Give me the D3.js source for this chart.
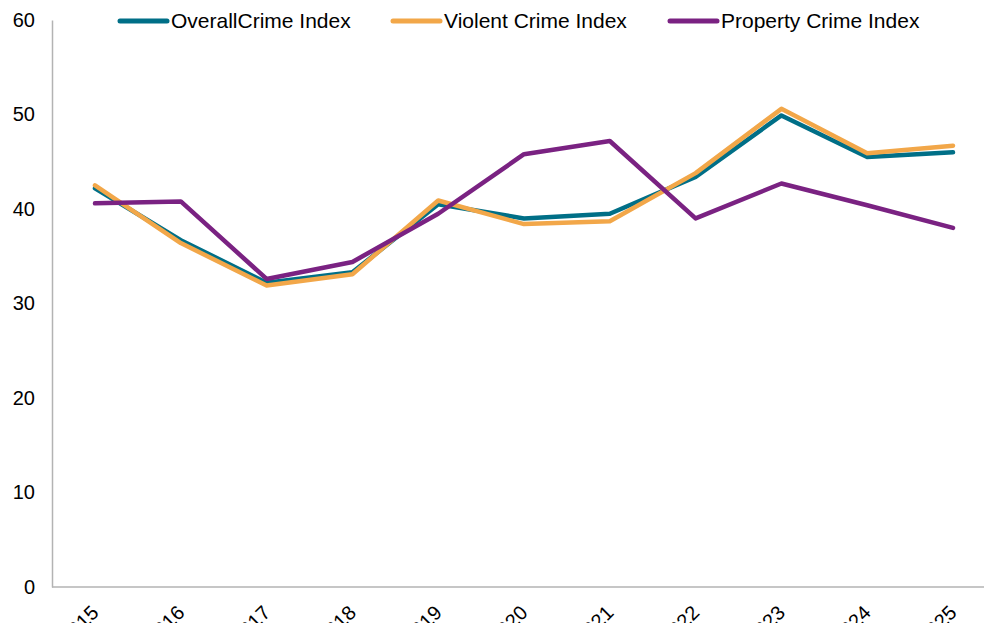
<!DOCTYPE html>
<html>
<head>
<meta charset="utf-8">
<script src="https://cdn.jsdelivr.net/npm/d3@7"></script>
<style>
  body { margin: 0; background: #fff; overflow: hidden; }
  svg { display: block; font-family: Arial, "Liberation Sans", sans-serif; }
</style>
</head>
<body>
<div id="chart"></div>
<script>
// chart data
const YEARS = ["2015", "2016", "2017", "2018", "2019", "2020", "2021", "2022", "2023", "2024", "2025"];
const OVERALL = [42.2, 36.7, 32.2, 33.3, 40.5, 39.0, 39.5, 43.4, 49.9, 45.5, 46.0];
const VIOLENT = [42.5, 36.4, 31.9, 33.1, 40.9, 38.4, 38.7, 43.8, 50.6, 45.9, 46.7];
const PROPERTY = [40.6, 40.8, 32.6, 34.4, 39.5, 45.8, 47.2, 39.0, 42.7, 40.4, 38.0];
const Y_TICKS = [0, 10, 20, 30, 40, 50, 60];

const SERIES = [
  {name: "OverallCrime Index", values: OVERALL, color: "#006f87"},
  {name: "Violent Crime Index", values: VIOLENT, color: "#f2a749"},
  {name: "Property Crime Index", values: PROPERTY, color: "#7a2282"}
];

const FRAME_WIDTH = 984;
const FRAME_HEIGHT = 623;
const MARGINS = {left: 52, top: 20, bottom: 36};

const FRAME = d3.select("#chart")
                  .append("svg")
                    .attr("width", FRAME_WIDTH)
                    .attr("height", FRAME_HEIGHT);

const X_SCALE = d3.scalePoint()
                    .domain(YEARS)
                    .range([95, 953]);

const Y_SCALE = d3.scaleLinear()
                    .domain([0, 60])
                    .range([587, MARGINS.top]);

// y axis
const yAxis = FRAME.append("g")
    .attr("transform", "translate(" + MARGINS.left + ",0)")
    .call(d3.axisLeft(Y_SCALE).tickValues(Y_TICKS).tickSize(0).tickPadding(17));
yAxis.select(".domain").attr("stroke", "#b3b3b3").attr("stroke-width", 1.5);
yAxis.selectAll("text").attr("font-size", 20).attr("fill", "#000")
    .attr("font-family", "Arial, 'Liberation Sans', sans-serif");

// x axis (labels run past the bottom edge, as in the original)
const xAxis = FRAME.append("g")
    .attr("transform", "translate(0," + Y_SCALE(0) + ")");
xAxis.append("line")
    .attr("x1", MARGINS.left).attr("x2", FRAME_WIDTH)
    .attr("y1", 0).attr("y2", 0)
    .attr("stroke", "#b3b3b3").attr("stroke-width", 1.5);
xAxis.selectAll(".xlabel")
    .data(YEARS)
    .enter().append("text")
      .attr("class", "xlabel")
      .attr("transform", d => "translate(" + X_SCALE(d) + ",22) rotate(-45)")
      .attr("text-anchor", "end")
      .attr("dy", "0.35em")
      .attr("font-size", 20)
      .attr("fill", "#000")
      .text(d => d);

// lines
const line = d3.line()
    .x((d, i) => X_SCALE(YEARS[i]))
    .y(d => Y_SCALE(d));

FRAME.selectAll(".series")
    .data(SERIES)
    .enter().append("path")
      .attr("class", "series")
      .attr("d", d => line(d.values))
      .attr("fill", "none")
      .attr("stroke", d => d.color)
      .attr("stroke-width", 4.5)
      .attr("stroke-linejoin", "round")
      .attr("stroke-linecap", "round");

// legend
const LEGEND_X = [120, 393, 670];
const legend = FRAME.selectAll(".legend")
    .data(SERIES)
    .enter().append("g")
      .attr("class", "legend")
      .attr("transform", (d, i) => "translate(" + LEGEND_X[i] + ",21)");
legend.append("line")
    .attr("x1", 0).attr("x2", 47)
    .attr("stroke", d => d.color)
    .attr("stroke-width", 5)
    .attr("stroke-linecap", "round");
legend.append("text")
    .attr("x", 51)
    .attr("dy", "0.35em")
    .attr("font-size", 21)
    .attr("fill", "#000")
    .text(d => d.name);
</script>
</body>
</html>
